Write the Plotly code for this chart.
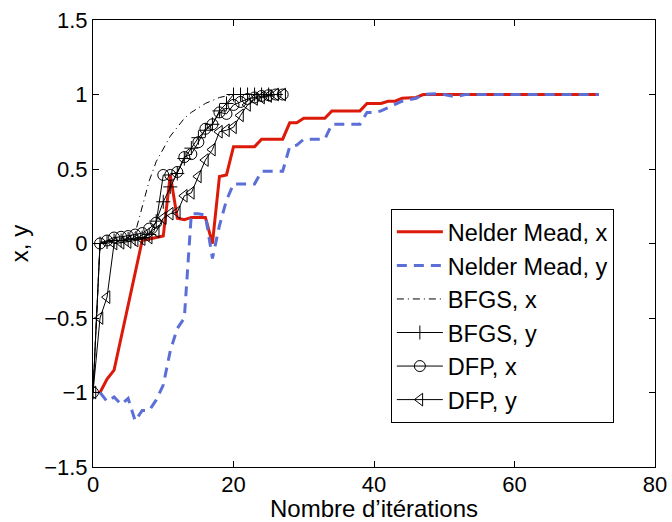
import plotly.graph_objects as go

# Nelder Mead (iterations 1..72)
nm_iter = list(range(1, 73))
nm_x = [-1.0, -0.91, -0.85, -0.63, -0.41, -0.19, 0.02, 0.03, 0.04, 0.05,
        0.46, 0.17, 0.16, 0.175, 0.175, 0.175, 0.0, 0.45, 0.46, 0.65,
        0.65, 0.65, 0.65, 0.70, 0.70, 0.70, 0.70, 0.81, 0.81, 0.84,
        0.84, 0.84, 0.84, 0.89, 0.89, 0.89, 0.89, 0.89, 0.94, 0.94,
        0.94, 0.955, 0.955, 0.975, 0.975, 0.98, 1.0, 1.0, 1.0, 1.0,
        0.995, 0.995, 1.0, 1.0, 1.0, 1.0, 1.0, 1.0, 1.0, 1.0,
        1.0, 1.0, 1.0, 1.0, 1.0, 1.0, 1.0, 1.0, 1.0, 1.0,
        1.0, 1.0]
nm_y = [-1.0, -1.06, -1.03, -1.08, -1.04, -1.19, -1.12, -1.12, -1.05, -0.95,
        -0.72, -0.57, -0.50, 0.20, 0.20, 0.19, -0.10, 0.12, 0.29, 0.40,
        0.40, 0.40, 0.40, 0.485, 0.485, 0.485, 0.485, 0.65, 0.66, 0.70,
        0.70, 0.70, 0.70, 0.80, 0.80, 0.80, 0.80, 0.80, 0.88, 0.88,
        0.89, 0.91, 0.935, 0.955, 0.965, 0.975, 1.0, 1.005, 1.005, 1.0,
        0.99, 0.99, 1.0, 1.0, 1.0, 1.0, 1.0, 1.0, 1.0, 1.0,
        1.0, 1.0, 1.0, 1.0, 1.0, 1.0, 1.0, 1.0, 1.0, 1.0,
        1.0, 1.0]

# BFGS (iterations 0..25)
bfgs_iter = list(range(0, 26))
bfgs_x = [-1.0, 0.0, 0.01, 0.02, 0.03, 0.04, 0.07, 0.25, 0.42, 0.55,
          0.64, 0.72, 0.78, 0.84, 0.88, 0.91, 0.94, 0.96, 0.98, 0.99,
          1.0, 1.0, 1.0, 1.0, 1.0, 1.0]
bfgs_y = [-1.0, 0.0, 0.01, 0.02, 0.02, 0.03, 0.03, 0.04, 0.06, 0.15,
          0.28, 0.38, 0.47, 0.57, 0.64, 0.71, 0.76, 0.80, 0.89, 0.94,
          1.0, 1.0, 1.0, 1.0, 1.0, 1.0]

# DFP (iterations 0..27)
dfp_iter = list(range(0, 28))
dfp_x = [-1.0, 0.0, 0.02, 0.04, 0.045, 0.05, 0.06, 0.07, 0.10, 0.14,
         0.46, 0.46, 0.48, 0.58, 0.60, 0.68, 0.77, 0.80, 0.88, 0.87,
         0.93, 0.95, 0.97, 0.98, 0.99, 0.995, 1.0, 1.0]
dfp_y = [-1.0, -0.5, -0.36, 0.0, 0.005, 0.01, 0.02, 0.03, 0.04, 0.08,
         0.17, 0.20, 0.21, 0.32, 0.34, 0.45, 0.56, 0.63, 0.75, 0.76,
         0.78, 0.86, 0.93, 0.97, 0.98, 0.99, 1.0, 1.0]

x_ticks = [0, 20, 40, 60, 80]
y_ticks = [-1.5, -1, -0.5, 0, 0.5, 1, 1.5]
y_tick_text = ["\u22121.5", "\u22121", "\u22120.5", "0", "0.5", "1", "1.5"]

FONT = "Liberation Sans, Arial, sans-serif"

fig = go.Figure()
fig.add_trace(go.Scatter(x=nm_iter, y=nm_x, mode="lines", name="Nelder Mead, x",
                         line=dict(color="#dc1a0a", width=3)))
fig.add_trace(go.Scatter(x=nm_iter, y=nm_y, mode="lines", name="Nelder Mead, y",
                         line=dict(color="#5b6fd6", width=3, dash="10px,7px")))
fig.add_trace(go.Scatter(x=bfgs_iter, y=bfgs_x, mode="lines", name="BFGS, x",
                         line=dict(color="black", width=1, dash="7px,4px,1px,4px")))
fig.add_trace(go.Scatter(x=bfgs_iter, y=bfgs_y, mode="lines+markers", name="BFGS, y",
                         line=dict(color="black", width=1),
                         marker=dict(symbol="cross-thin", size=10,
                                     line=dict(color="black", width=1), color="black")))
fig.add_trace(go.Scatter(x=dfp_iter, y=dfp_x, mode="lines+markers", name="DFP, x",
                         line=dict(color="black", width=1),
                         marker=dict(symbol="circle-open", size=11, color="black",
                                     line=dict(color="black", width=1))))
fig.add_trace(go.Scatter(x=dfp_iter, y=dfp_y, mode="lines+markers", name="DFP, y",
                         line=dict(color="black", width=1),
                         marker=dict(symbol="triangle-left-open", size=11, color="black",
                                     line=dict(color="black", width=1))))

fig.update_layout(
    width=672, height=522,
    margin=dict(l=93, r=17, t=20, b=55),
    paper_bgcolor="white", plot_bgcolor="white",
    font=dict(family=FONT, size=22, color="black"),
    showlegend=True,
    legend=dict(x=0.530, y=0.577, xanchor="left", yanchor="top",
                bgcolor="white", bordercolor="black", borderwidth=1,
                font=dict(family=FONT, size=23.5, color="black"),
                itemwidth=46, tracegroupgap=0),
)
fig.update_xaxes(range=[0, 80], tickvals=x_ticks, ticks="inside", ticklen=6,
                 showline=True, linecolor="black", linewidth=1, mirror="ticks",
                 showgrid=False, zeroline=False, tickcolor="black",
                 automargin=False, ticklabelstandoff=-2,
                 title=dict(text="Nombre d\u2019itérations", standoff=0,
                            font=dict(size=24)),
                 tickfont=dict(size=22))
fig.update_yaxes(range=[-1.5, 1.5], tickvals=y_ticks, ticktext=y_tick_text,
                 ticks="inside", ticklen=6,
                 showline=True, linecolor="black", linewidth=1, mirror="ticks",
                 showgrid=False, zeroline=False, tickcolor="black",
                 automargin=False,
                 title=dict(text="x, y", standoff=8, font=dict(size=24)),
                 tickfont=dict(size=22))

fig.write_html("out.html", config={"displayModeBar": False},
               post_script="document.body.style.margin='0';document.body.style.overflow='hidden';")
